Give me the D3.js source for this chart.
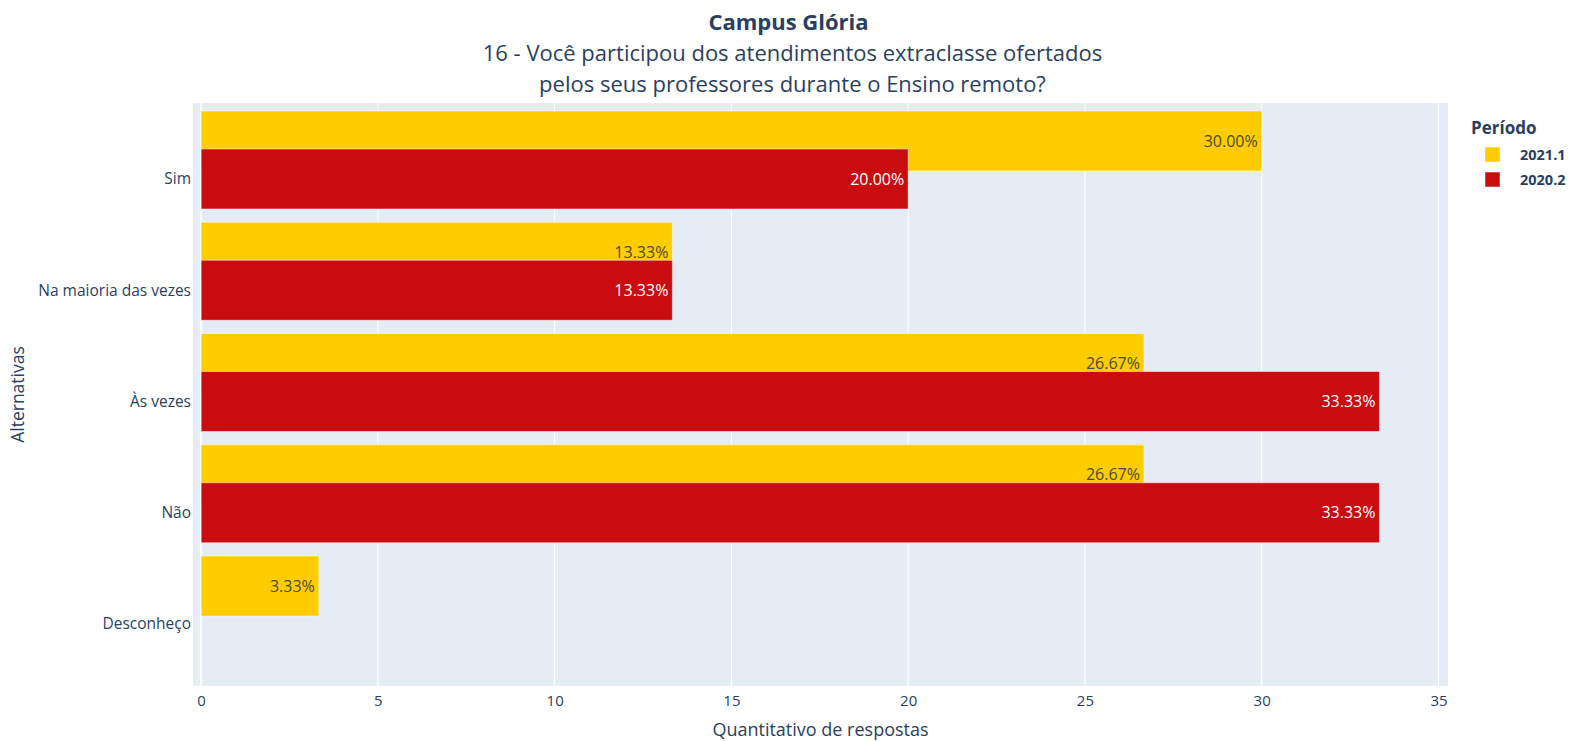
<!DOCTYPE html>
<html>
<head>
<meta charset="utf-8">
<script src="https://cdn.jsdelivr.net/npm/d3@7"></script>
<style>
  body { margin: 0; background: #fff; }
  text { font-family: "Open Sans", sans-serif; fill: #2a3f5f; }
</style>
</head>
<body>
<svg></svg>
<script>
var svg = d3.select("svg")
            .attr("width", 1571)
            .attr("height", 741);

// data
var categories = ["Sim", "Na maioria das vezes", "Às vezes", "Não", "Desconheço"];
var periods = ["2021.1", "2020.2"];
var colors = ["#ffcc00", "#c80c10"];
var values2021 = [30.00, 13.33, 26.67, 26.67, 3.33];
var values2020 = [20.00, 13.33, 33.33, 33.33, null];
var xTicks = [0, 5, 10, 15, 20, 25, 30, 35];

var margin = {top: 103, left: 193, right: 123, bottom: 55},
    width = 1571 - margin.left - margin.right,
    height = 741 - margin.top - margin.bottom;

var g = svg.append("g").attr("transform", "translate(" + margin.left + "," + margin.top + ")");

//scales
var x = d3.scaleLinear().domain([-0.23, 35.27]).range([0, width]);
var y = d3.scaleLinear().domain([-0.683, 4.557]).range([0, height]); // category index
var barH = 60, offset = -38;

// background
g.append("rect")
  .attr("width", width)
  .attr("height", height)
  .style("fill", "#e5ecf6");

// grid
g.selectAll(".grid")
  .data(xTicks)
  .enter().append("line")
  .attr("x1", function(d) { return x(d); })
  .attr("x2", function(d) { return x(d); })
  .attr("y1", 0).attr("y2", height)
  .style("stroke", "#fff")
  .style("stroke-width", function(d) { return d === 0 ? 2 : 1; });

// x axis
var xAxis = g.append("g")
  .attr("transform", "translate(0," + height + ")")
  .call(d3.axisBottom(x).tickValues(xTicks).tickSize(0).tickPadding(9));
xAxis.select(".domain").remove();
xAxis.selectAll("text").style("font-size", "15px").style("font-family", "Open Sans").style("fill", "#2a3f5f");

// y axis labels
g.selectAll(".ylab")
  .data(categories)
  .enter().append("text")
  .attr("x", -2)
  .attr("y", function(d, i) { return y(i); })
  .attr("dy", "0.35em")
  .attr("text-anchor", "end")
  .style("font-size", "15.5px")
  .text(function(d) { return d; });

// series
var series = [
  {name: periods[0], values: values2021, color: colors[0], shift: offset, textColor: "#4a4a3a"},
  {name: periods[1], values: values2020, color: colors[1], shift: 0, textColor: "#ffffff"}
];

series.forEach(function(s) {
  var grp = g.append("g");
  s.values.forEach(function(v, i) {
    if (v === null) return;
    var cy = y(i) + s.shift;
    grp.append("rect")
      .attr("x", x(0))
      .attr("y", cy - barH / 2)
      .attr("width", x(v) - x(0))
      .attr("height", barH)
      .style("fill", s.color)
      .style("stroke", "#ffffff")
      .style("stroke-opacity", 0.5)
      .style("stroke-width", 1);
    grp.append("text")
      .attr("x", x(v) - 4)
      .attr("y", cy)
      .attr("dy", "0.35em")
      .attr("text-anchor", "end")
      .style("font-size", "16px")
      .style("fill", s.textColor)
      .text(v.toFixed(2) + "%");
  });
});

// titles
svg.append("text")
  .attr("x", margin.left + width / 2 - 32).attr("y", 30)
  .attr("text-anchor", "middle")
  .style("font-size", "22px").style("font-weight", "bold")
  .text("Campus Glória");
svg.append("text")
  .attr("x", margin.left + width / 2 - 28).attr("y", 61)
  .attr("text-anchor", "middle")
  .style("font-size", "22px")
  .text("16 - Você participou dos atendimentos extraclasse ofertados");
svg.append("text")
  .attr("x", margin.left + width / 2 - 28).attr("y", 92)
  .attr("text-anchor", "middle")
  .style("font-size", "22px")
  .text("pelos seus professores durante o Ensino remoto?");

// axis titles
svg.append("text")
  .attr("x", margin.left + width / 2).attr("y", 736)
  .attr("text-anchor", "middle")
  .style("font-size", "18px")
  .text("Quantitativo de respostas");
svg.append("text")
  .attr("transform", "translate(24," + (margin.top + height / 2) + ") rotate(-90)")
  .attr("text-anchor", "middle")
  .style("font-size", "17.5px")
  .text("Alternativas");

// legend
var legend = svg.append("g").attr("transform", "translate(1471,0)");
legend.append("text")
  .attr("x", 0).attr("y", 134)
  .style("font-size", "17px").style("font-weight", "bold")
  .text("Período");
periods.forEach(function(p, i) {
  legend.append("rect")
    .attr("x", 14).attr("y", 147 + i * 25)
    .attr("width", 15).attr("height", 15)
    .style("fill", colors[i])
    .style("stroke", "#fff").style("stroke-opacity", 0.5);
  legend.append("text")
    .attr("x", 49).attr("y", 155 + i * 25)
    .attr("dy", "0.35em")
    .style("font-size", "14.5px").style("font-weight", "bold")
    .text(p);
});
</script>
</body>
</html>
